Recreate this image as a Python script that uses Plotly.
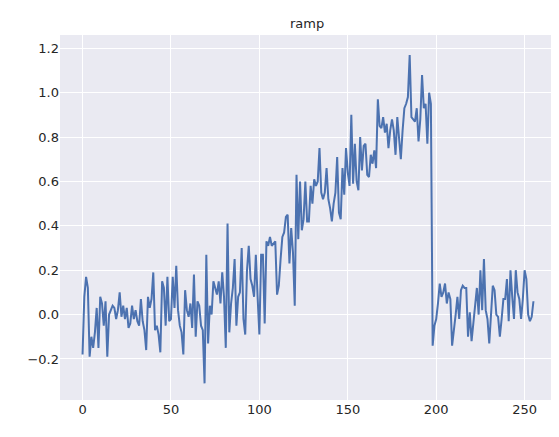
import plotly.graph_objects as go

values = [
    -0.18, 0.08, 0.17, 0.12, -0.19, -0.10, -0.15, -0.08, 0.03, -0.15,
    0.08, 0.05, -0.05, 0.06, -0.19, 0.00, 0.02, 0.04, 0.03, -0.02,
    0.02, 0.10, -0.01, 0.04, -0.02, 0.03, -0.06, -0.04, 0.04, -0.02,
    0.02, -0.03, -0.05, 0.07, -0.03, -0.07, -0.16, 0.08, 0.03, 0.07,
    0.19, -0.07, -0.05, -0.09, -0.17, 0.15, 0.12, -0.05, 0.17, -0.03,
    -0.02, 0.17, 0.03, 0.22, 0.02, -0.05, -0.08, -0.18, 0.11, 0.02,
    -0.01, 0.05, -0.06, 0.18, -0.10, 0.06, 0.04, -0.05, -0.07, -0.31,
    0.27, -0.13, 0.04, 0.00, 0.15, 0.12, 0.09, 0.15, 0.05, 0.19,
    0.08, -0.15, 0.41, -0.08, 0.05, 0.12, 0.25, -0.05, 0.08, 0.10,
    0.30, -0.02, -0.09, 0.20, 0.31, 0.16, 0.13, 0.08, 0.27, 0.08,
    -0.09, 0.27, 0.27, -0.04, 0.33, 0.31, 0.35, 0.31, 0.32, 0.33,
    0.09, 0.13, 0.25, 0.35, 0.37, 0.44, 0.45, 0.23, 0.39, 0.28,
    0.04, 0.63, 0.34, 0.60, 0.38, 0.43, 0.60, 0.42, 0.42, 0.58,
    0.50, 0.61, 0.58, 0.60, 0.75, 0.55, 0.52, 0.55, 0.66, 0.52,
    0.48, 0.42, 0.50, 0.55, 0.71, 0.46, 0.43, 0.66, 0.54, 0.75,
    0.64, 0.58, 0.90, 0.59, 0.77, 0.60, 0.56, 0.80, 0.65, 0.76,
    0.77, 0.63, 0.62, 0.72, 0.68, 0.74, 0.66, 0.97, 0.85, 0.84,
    0.89, 0.82, 0.86, 0.75, 0.83, 0.88, 0.83, 0.72, 0.89, 0.79,
    0.70, 0.83, 0.93, 0.95, 0.98, 1.17, 0.89, 0.88, 0.87, 0.93,
    0.78, 0.88, 1.08, 0.93, 0.95, 0.77, 1.00, 0.95, -0.14, -0.05,
    -0.02, 0.05, 0.14, 0.08, 0.10, 0.14, 0.05, 0.10, 0.07, -0.14,
    -0.08, 0.00, 0.08, -0.02, 0.11, 0.13, 0.12, 0.12, -0.10, 0.01,
    -0.12, -0.05, 0.04, 0.12, 0.00, 0.20, 0.02, 0.25, 0.02, -0.02,
    -0.13, 0.00, 0.13, 0.11, 0.00, -0.01, -0.10, -0.02, 0.07, 0.07,
    0.16, -0.03, 0.20, 0.08, -0.02, 0.20, 0.10, 0.07, -0.02, 0.07,
    0.20, 0.16, 0.00, -0.03, -0.01, 0.06,
]
x = list(range(len(values)))

fig = go.Figure()
fig.add_trace(go.Scatter(x=x, y=values, mode="lines",
                         line=dict(color="#4C72B0", width=2)))

axis = dict(showline=False, zeroline=False, gridcolor="white", gridwidth=1.2,
            ticks="", automargin=False, tickfont=dict(size=13, color="#262626"))
fig.update_layout(
    width=559, height=437,
    margin=dict(l=52, r=11, t=27, b=45),
    paper_bgcolor="white", plot_bgcolor="#EAEAF2",
    font=dict(family="DejaVu Sans", color="#262626"),
    title=dict(text="ramp", x=0.535, xanchor="center", y=0.965, yanchor="middle",
               font=dict(size=13)),
    showlegend=False,
)
fig.update_xaxes(range=[-12.75, 267.75], tickvals=[0, 50, 100, 150, 200, 250], **axis)
fig.update_yaxes(range=[-0.385, 1.26], dtick=0.2, tickformat=".1f", **axis)

fig.write_html("out.html")
